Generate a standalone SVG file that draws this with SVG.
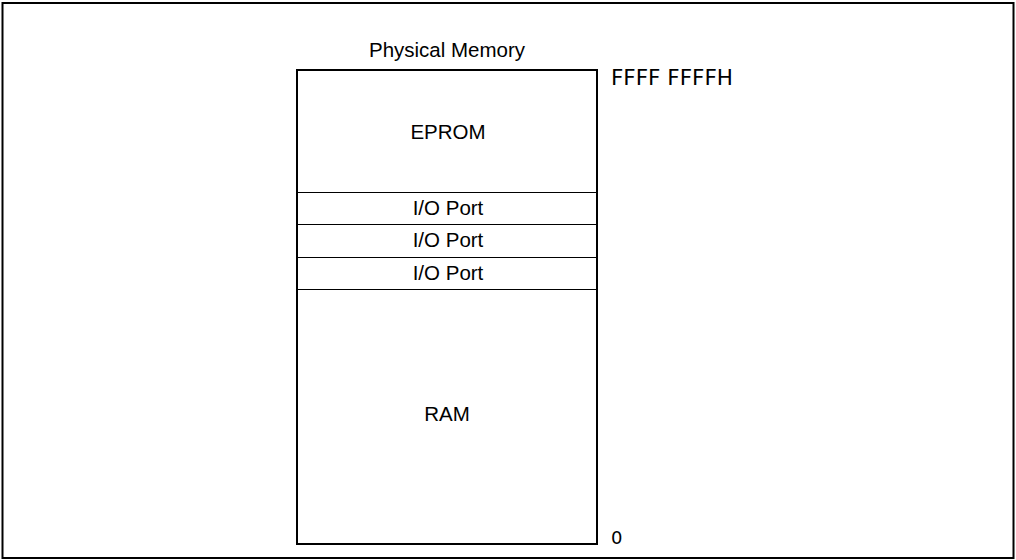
<svg xmlns="http://www.w3.org/2000/svg" width="1016" height="560" viewBox="0 0 1016 560">
<style>
.t{font-family:"Liberation Sans",Arial,sans-serif;font-size:20.5px;fill:#000;text-anchor:middle}
.a{font-family:"DejaVu Sans","Liberation Sans",sans-serif;font-size:21.5px;fill:#000}
.box{fill:#fff;stroke:#000;stroke-width:2}
.div{stroke:#000;stroke-width:1;fill:none}
</style>
<rect x="0" y="0" width="1016" height="560" fill="#fff"/>
<rect x="2.5" y="3" width="1011" height="555" fill="none" stroke="#000" stroke-width="2"/>
<text class="t" x="447" y="57">Physical Memory</text>
<g id="memory">
<rect class="box" x="297" y="70" width="300" height="474"/>
</g>
<g id="connectors">
<line class="div" x1="297" y1="192.5" x2="597" y2="192.5"/>
<line class="div" x1="297" y1="224.5" x2="597" y2="224.5"/>
<line class="div" x1="297" y1="257.5" x2="597" y2="257.5"/>
<line class="div" x1="297" y1="289.5" x2="597" y2="289.5"/>
</g>
<g id="eprom"><text class="t" x="448" y="139">EPROM</text></g>
<g id="io1"><text class="t" x="448" y="215">I/O Port</text></g>
<g id="io2"><text class="t" x="448" y="247">I/O Port</text></g>
<g id="io3"><text class="t" x="448" y="280">I/O Port</text></g>
<g id="ram"><text class="t" x="447" y="421">RAM</text></g>
<text class="a" x="611" y="85">FFFF FFFFH</text>
<text class="a" x="611" y="544" style="font-size:18px">0</text>
</svg>
